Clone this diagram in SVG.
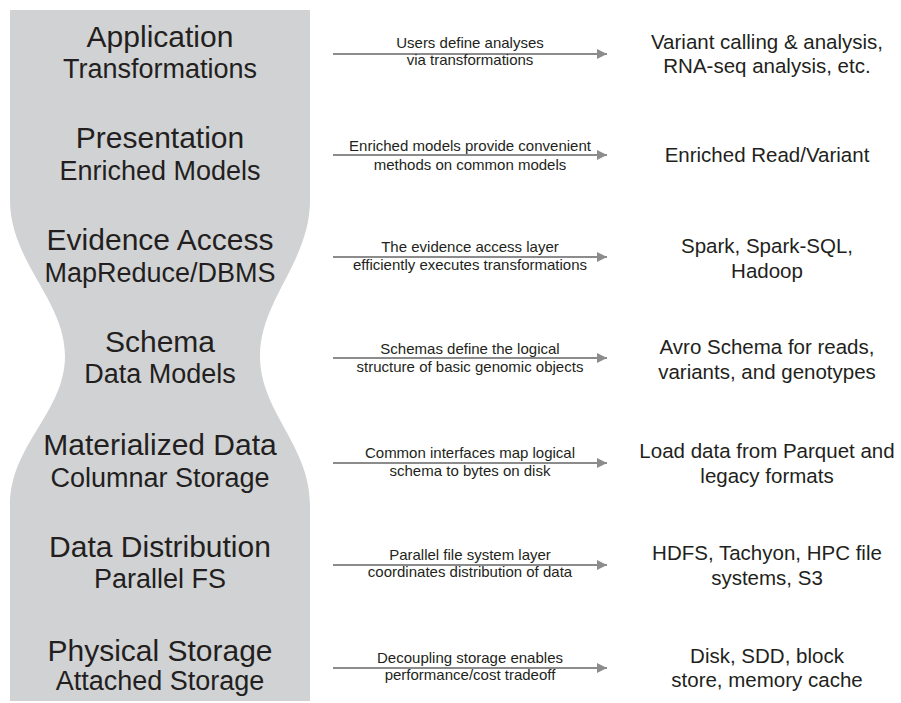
<svg xmlns="http://www.w3.org/2000/svg" width="901" height="703" viewBox="0 0 901 703">
<style>
  text { font-family: "Liberation Sans", Arial, sans-serif; fill: #231f20; text-anchor: middle; }
  .title { font-size: 30px; }
  .sub { font-size: 27px; }
  .lbl { font-size: 15px; }
  .res { font-size: 20.5px; }
  .conn { stroke: #8c8c8c; stroke-width: 2; fill: none; }
</style>
<defs>
  <marker id="arr" viewBox="0 0 10 10" refX="10" refY="5" markerWidth="10" markerHeight="10" markerUnits="userSpaceOnUse" orient="auto">
    <path d="M0,0 L10,5 L0,10 Z" fill="#8c8c8c"/>
  </marker>
</defs>
<rect width="901" height="703" fill="#ffffff"/>
<g id="stack">
  <path d="M10,10 H310 V200 C310,262 260,300 260,356 C260,412 310,445 310,505 V701 H10 V505 C10,445 65,412 65,356 C65,300 10,262 10,200 Z" fill="#d1d2d4"/>
</g>
<g id="layer-application">
  <text class="title" x="160" y="47">Application</text>
  <text class="sub" x="160" y="78">Transformations</text>
</g>
<g id="layer-presentation">
  <text class="title" x="160" y="148">Presentation</text>
  <text class="sub" x="160" y="180">Enriched Models</text>
</g>
<g id="layer-evidence">
  <text class="title" x="160" y="250">Evidence Access</text>
  <text class="sub" x="160" y="282">MapReduce/DBMS</text>
</g>
<g id="layer-schema">
  <text class="title" x="160" y="352">Schema</text>
  <text class="sub" x="160" y="383">Data Models</text>
</g>
<g id="layer-materialized">
  <text class="title" x="160" y="455">Materialized Data</text>
  <text class="sub" x="160" y="487">Columnar Storage</text>
</g>
<g id="layer-distribution">
  <text class="title" x="160" y="557">Data Distribution</text>
  <text class="sub" x="160" y="588">Parallel FS</text>
</g>
<g id="layer-physical">
  <text class="title" x="160" y="661">Physical Storage</text>
  <text class="sub" x="160" y="690">Attached Storage</text>
</g>
<g id="connectors">
  <line class="conn" x1="333" y1="54" x2="607" y2="54" marker-end="url(#arr)"/>
  <line class="conn" x1="333" y1="155" x2="607" y2="155" marker-end="url(#arr)"/>
  <line class="conn" x1="333" y1="257" x2="607" y2="257" marker-end="url(#arr)"/>
  <line class="conn" x1="333" y1="358" x2="607" y2="358" marker-end="url(#arr)"/>
  <line class="conn" x1="333" y1="463" x2="607" y2="463" marker-end="url(#arr)"/>
  <line class="conn" x1="333" y1="565" x2="607" y2="565" marker-end="url(#arr)"/>
  <line class="conn" x1="333" y1="668" x2="607" y2="668" marker-end="url(#arr)"/>
  <text class="lbl" x="470" y="48">Users define analyses</text>
  <text class="lbl" x="470" y="65">via transformations</text>
  <text class="lbl" x="470" y="151">Enriched models provide convenient</text>
  <text class="lbl" x="470" y="170">methods on common models</text>
  <text class="lbl" x="470" y="252">The evidence access layer</text>
  <text class="lbl" x="470" y="270">efficiently executes transformations</text>
  <text class="lbl" x="470" y="354">Schemas define the logical</text>
  <text class="lbl" x="470" y="372">structure of basic genomic objects</text>
  <text class="lbl" x="470" y="458">Common interfaces map logical</text>
  <text class="lbl" x="470" y="476">schema to bytes on disk</text>
  <text class="lbl" x="470" y="560">Parallel file system layer</text>
  <text class="lbl" x="470" y="577">coordinates distribution of data</text>
  <text class="lbl" x="470" y="663">Decoupling storage enables</text>
  <text class="lbl" x="470" y="680">performance/cost tradeoff</text>
</g>
<g id="result-application">
  <text class="res" x="767" y="49">Variant calling &amp; analysis,</text>
  <text class="res" x="767" y="73">RNA-seq analysis, etc.</text>
</g>
<g id="result-presentation">
  <text class="res" x="767" y="162">Enriched Read/Variant</text>
</g>
<g id="result-evidence">
  <text class="res" x="767" y="253">Spark, Spark-SQL,</text>
  <text class="res" x="767" y="278">Hadoop</text>
</g>
<g id="result-schema">
  <text class="res" x="767" y="354">Avro Schema for reads,</text>
  <text class="res" x="767" y="379">variants, and genotypes</text>
</g>
<g id="result-materialized">
  <text class="res" x="767" y="458">Load data from Parquet and</text>
  <text class="res" x="767" y="483">legacy formats</text>
</g>
<g id="result-distribution">
  <text class="res" x="767" y="560">HDFS, Tachyon, HPC file</text>
  <text class="res" x="767" y="585">systems, S3</text>
</g>
<g id="result-physical">
  <text class="res" x="767" y="663">Disk, SDD, block</text>
  <text class="res" x="767" y="687">store, memory cache</text>
</g>
</svg>
